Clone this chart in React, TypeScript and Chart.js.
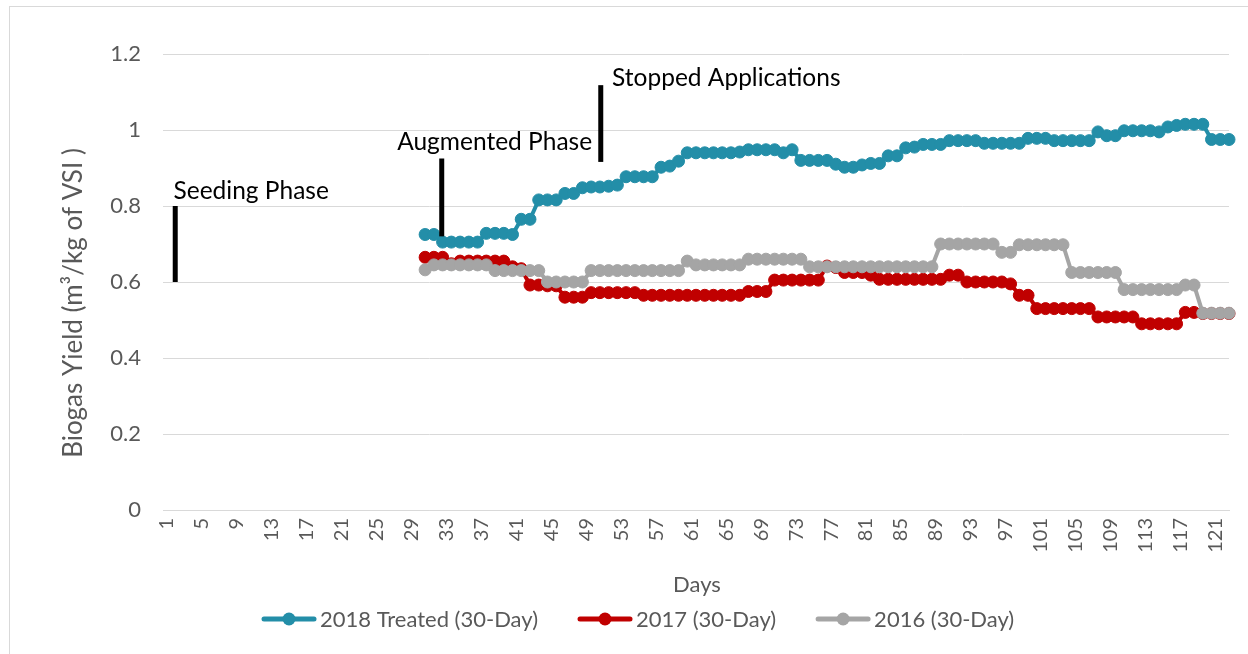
import React, { useEffect, useRef } from 'react';
import { Chart, registerables } from 'chart.js';

Chart.register(...registerables);

// Categories: days 1..123
const DAYS: string[] = Array.from({ length: 123 }, (_, i) => String(i + 1));
const FIRST_DAY = 31; // first day with data

// Values for days 31..123
const treated2018: number[] = [
  0.725, 0.725, 0.705, 0.705, 0.705, 0.705, 0.705, 0.728, 0.728, 0.728,
  0.725, 0.765, 0.765, 0.816, 0.816, 0.816, 0.833, 0.833, 0.848, 0.850,
  0.850, 0.852, 0.855, 0.877, 0.877, 0.877, 0.877, 0.902, 0.905, 0.918,
  0.940, 0.940, 0.940, 0.940, 0.940, 0.940, 0.942, 0.948, 0.948, 0.948,
  0.948, 0.940, 0.948, 0.920, 0.920, 0.920, 0.920, 0.910, 0.902, 0.902,
  0.908, 0.912, 0.912, 0.932, 0.932, 0.953, 0.955, 0.962, 0.962, 0.962,
  0.972, 0.972, 0.972, 0.972, 0.965, 0.965, 0.965, 0.965, 0.965, 0.978,
  0.978, 0.978, 0.972, 0.972, 0.972, 0.972, 0.972, 0.995, 0.985, 0.985,
  0.998, 0.998, 0.998, 0.998, 0.995, 1.008, 1.012, 1.015, 1.015, 1.015,
  0.975, 0.975, 0.975,
];

const y2017: number[] = [
  0.665, 0.665, 0.665, 0.648, 0.655, 0.655, 0.655, 0.655, 0.655, 0.655,
  0.640, 0.635, 0.592, 0.592, 0.590, 0.590, 0.560, 0.560, 0.560, 0.572,
  0.572, 0.572, 0.572, 0.572, 0.572, 0.565, 0.565, 0.565, 0.565, 0.565,
  0.565, 0.565, 0.565, 0.565, 0.565, 0.565, 0.565, 0.575, 0.575, 0.575,
  0.605, 0.605, 0.605, 0.605, 0.605, 0.605, 0.642, 0.638, 0.625, 0.625,
  0.625, 0.618, 0.607, 0.607, 0.607, 0.607, 0.607, 0.607, 0.607, 0.607,
  0.618, 0.618, 0.600, 0.600, 0.600, 0.600, 0.600, 0.595, 0.565, 0.565,
  0.530, 0.530, 0.530, 0.530, 0.530, 0.530, 0.530, 0.508, 0.508, 0.508,
  0.508, 0.508, 0.490, 0.490, 0.490, 0.490, 0.490, 0.520, 0.520, 0.517,
  0.517, 0.517, 0.517,
];

const y2016: number[] = [
  0.632, 0.645, 0.645, 0.645, 0.645, 0.645, 0.645, 0.645, 0.630, 0.630,
  0.630, 0.630, 0.630, 0.630, 0.600, 0.600, 0.600, 0.600, 0.600, 0.630,
  0.630, 0.630, 0.630, 0.630, 0.630, 0.630, 0.630, 0.630, 0.630, 0.630,
  0.655, 0.645, 0.645, 0.645, 0.645, 0.645, 0.645, 0.660, 0.660, 0.660,
  0.660, 0.660, 0.660, 0.660, 0.640, 0.640, 0.640, 0.640, 0.640, 0.640,
  0.640, 0.640, 0.640, 0.640, 0.640, 0.640, 0.640, 0.640, 0.640, 0.700,
  0.700, 0.700, 0.700, 0.700, 0.700, 0.700, 0.678, 0.678, 0.698, 0.698,
  0.698, 0.698, 0.698, 0.698, 0.625, 0.625, 0.625, 0.625, 0.625, 0.625,
  0.580, 0.580, 0.580, 0.580, 0.580, 0.580, 0.580, 0.592, 0.592, 0.518,
  0.518, 0.518, 0.518,
];

const seriesNames = ['2018 Treated (30-Day)', '2017 (30-Day)', '2016 (30-Day)'];
const seriesColors = ['#238EA8', '#C00000', '#A5A5A5'];

// Phase annotations (x as category index, y in data units)
const annotationTexts = ['Seeding Phase', 'Augmented Phase', 'Stopped Applications'];
const annotationLineX = [1.4, 31.9, 50.1];
const annotationLineY1 = [0.6, 0.72, 0.916];
const annotationLineY2 = [0.8, 0.925, 1.118];
const annotationTextX = [1.2, 26.8, 51.4];
const annotationTextY = [0.818, 0.947, 1.116];

const Y_TITLE = 'Biogas Yield (m³/kg of VSI )';
const X_TITLE = 'Days';

const FONT = 'Lato, "Open Sans", sans-serif';
const GREY_TEXT = '#595959';

const pad = (arr: number[]) => [...Array(FIRST_DAY - 1).fill(null), ...arr];

export default function App() {
  const ref = useRef<HTMLCanvasElement | null>(null);

  useEffect(() => {
    const canvas = ref.current;
    if (!canvas) return;

    const decorations = {
      id: 'decorations',
      beforeDraw(chart: any) {
        const ctx = chart.ctx;
        ctx.save();
        ctx.fillStyle = '#ffffff';
        ctx.fillRect(0, 0, chart.width, chart.height);
        ctx.strokeStyle = '#d9d9d9';
        ctx.lineWidth = 1;
        ctx.strokeRect(9.5, 6.5, chart.width + 20, chart.height + 20);
        ctx.restore();
      },
      afterDraw(chart: any) {
        const ctx = chart.ctx;
        const xs = chart.scales.x;
        const ys = chart.scales.y;
        ctx.save();
        // annotations
        ctx.strokeStyle = '#000000';
        ctx.lineWidth = 5;
        ctx.lineCap = 'butt';
        ctx.fillStyle = '#000000';
        ctx.font = `24.5px ${FONT}`;
        ctx.textAlign = 'left';
        ctx.textBaseline = 'alphabetic';
        annotationTexts.forEach((t, i) => {
          const lx = xs.getPixelForValue(annotationLineX[i]);
          ctx.beginPath();
          ctx.moveTo(lx, ys.getPixelForValue(annotationLineY1[i]));
          ctx.lineTo(lx, ys.getPixelForValue(annotationLineY2[i]));
          ctx.stroke();
          ctx.fillText(t, xs.getPixelForValue(annotationTextX[i]), ys.getPixelForValue(annotationTextY[i]));
        });

        // axis titles
        ctx.fillStyle = GREY_TEXT;
        ctx.font = `26px ${FONT}`;
        ctx.textAlign = 'center';
        ctx.textBaseline = 'middle';
        ctx.save();
        ctx.translate(74, 303);
        ctx.rotate(-Math.PI / 2);
        ctx.fillText(Y_TITLE, 0, 0);
        ctx.restore();
        ctx.font = `22px ${FONT}`;
        ctx.fillText(X_TITLE, 697, 585);

        // legend
        ctx.font = `22px ${FONT}`;
        ctx.textAlign = 'left';
        ctx.textBaseline = 'middle';
        const legendY = 619;
        const lineLen = 54;
        const gapAfterLine = 4;
        const itemGap = 40;
        let x = 262;
        seriesNames.forEach((n, i) => {
          ctx.strokeStyle = seriesColors[i];
          ctx.lineWidth = 5;
          ctx.lineCap = 'round';
          ctx.beginPath();
          ctx.moveTo(x + 2, legendY);
          ctx.lineTo(x + lineLen - 2, legendY);
          ctx.stroke();
          ctx.fillStyle = seriesColors[i];
          ctx.beginPath();
          ctx.arc(x + lineLen / 2, legendY, 6.5, 0, Math.PI * 2);
          ctx.fill();
          ctx.fillStyle = GREY_TEXT;
          ctx.fillText(n, x + lineLen + gapAfterLine, legendY + 1);
          x += lineLen + gapAfterLine + ctx.measureText(n).width + itemGap;
        });
        ctx.restore();
      },
    };

    const mk = (i: number, data: number[], order: number) => ({
      label: seriesNames[i],
      data: pad(data),
      borderColor: seriesColors[i],
      backgroundColor: seriesColors[i],
      pointBackgroundColor: seriesColors[i],
      pointBorderColor: seriesColors[i],
      borderWidth: 4,
      pointRadius: 6,
      pointBorderWidth: 1,
      tension: 0,
      order,
    });

    const chart = new Chart(canvas, {
      type: 'line',
      data: {
        labels: DAYS,
        datasets: [mk(0, treated2018, 2), mk(1, y2017, 1), mk(2, y2016, 0)],
      },
      options: {
        animation: false,
        responsive: false,
        maintainAspectRatio: false,
        layout: { padding: { top: 54, right: 19, left: 0, bottom: 0 } },
        plugins: { legend: { display: false }, title: { display: false }, tooltip: { enabled: false } },
        scales: {
          x: {
            type: 'category',
            grid: { display: false, drawTicks: false },
            border: { display: true, color: '#d9d9d9' },
            ticks: {
              autoSkip: false,
              maxRotation: 90,
              minRotation: 90,
              padding: 8,
              labelOffset: 4,
              color: GREY_TEXT,
              font: { family: FONT, size: 20 },
              callback: (_v: any, i: number) => (i % 4 === 0 ? DAYS[i] : ''),
            },
            afterFit: (s: any) => {
              s.height = 144;
              s.paddingLeft = 0;
              s.paddingRight = 0;
            },
          },
          y: {
            min: 0,
            max: 1.2,
            grid: { color: '#d9d9d9', drawTicks: false, lineWidth: 1 },
            border: { display: false },
            ticks: {
              stepSize: 0.2,
              padding: 22,
              color: GREY_TEXT,
              font: { family: FONT, size: 22 },
              callback: (v: any) => String(Math.round(Number(v) * 10) / 10),
            },
            afterFit: (s: any) => {
              s.width = 163;
              s.paddingTop = 0;
              s.paddingBottom = 0;
            },
          },
        },
      },
      plugins: [decorations],
    });

    return () => chart.destroy();
  }, []);

  return (
    <div style={{ position: 'fixed', left: 0, top: 0, width: 1248, height: 654, background: '#fff' }}>
      <canvas ref={ref} width={1248} height={654} style={{ display: 'block', width: 1248, height: 654 }} />
    </div>
  );
}
